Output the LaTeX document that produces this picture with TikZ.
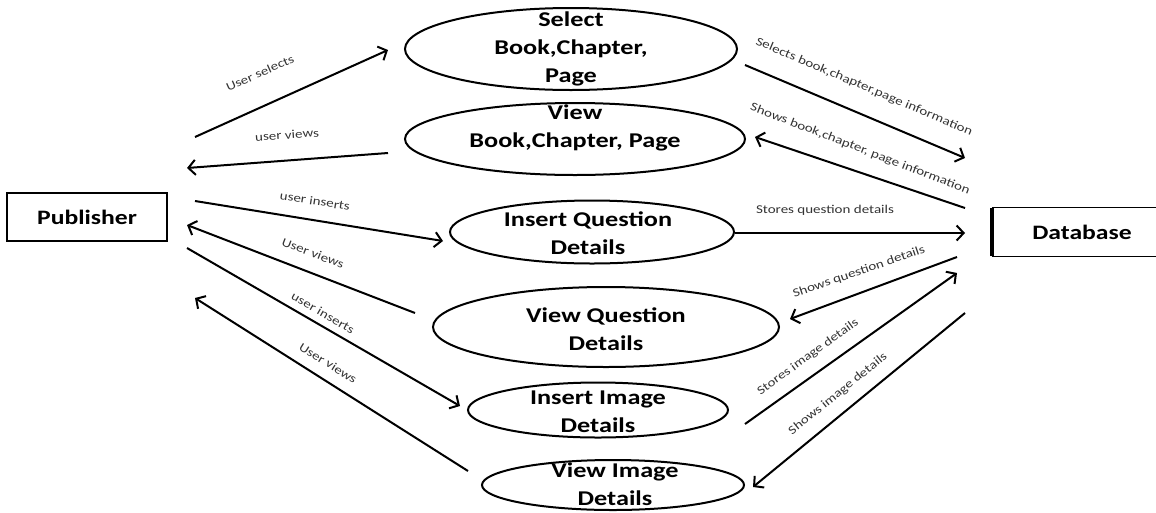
\documentclass[tikz,border=0pt]{standalone}
\usepackage{fontspec}
\setmainfont{Carlito}[FakeStretch=1.25]
\usetikzlibrary{shapes.geometric,arrows.meta}
\begin{document}
\begin{tikzpicture}[x=1pt,y=-1pt,
  every node/.style={inner sep=0pt},
  ell/.style={draw, ellipse, line width=2pt, inner sep=0pt},
  etext/.style={align=center, font=\bfseries\fontsize{21}{28}\selectfont},
  entity/.style={font=\bfseries\fontsize{20.5}{24}\selectfont},
  flow/.style={line width=2pt, -{Straight Barb[length=7pt,width=15pt]}},
  lbl/.style={font=\fontsize{12}{14}\selectfont, text=black!80}
]
\useasboundingbox (0,0) rectangle (1156,512);
\clip (0,0) rectangle (1156,512);

% external entities
\node[entity, draw, line width=2pt, minimum width=160pt, minimum height=48pt] (pub) at (87,217) {Publisher};
\node[entity, minimum width=180pt, minimum height=48pt] (db) at (1082,232) {Database};
\draw[line width=1.2pt] (db.north west) -- (db.north east);
\draw[line width=1.2pt] (db.south west) -- (db.south east);
\draw[line width=3.5pt] (db.north west) -- (db.south west);

% processes
\node[ell, minimum width=332pt, minimum height=82pt,
  label={[etext]center:Select\\Book,Chapter,\\Page}] (sel) at (571,49) {};
\node[ell, minimum width=340pt, minimum height=72pt,
  label={[etext, yshift=11pt]center:View\\Book,Chapter, Page}] (viewb) at (575,139) {};
\node[ell, minimum width=284pt, minimum height=63pt,
  label={[etext, xshift=-4pt, yshift=-1pt]center:Insert Question\\Details}] (insq) at (592,232) {};
\node[ell, minimum width=346pt, minimum height=80pt,
  label={[etext, yshift=-2pt]center:View Question\\Details}] (viewq) at (606,327) {};
\node[ell, minimum width=260pt, minimum height=55pt,
  label={[etext, yshift=-2pt]center:Insert Image\\Details}] (insi) at (598,410) {};
\node[ell, minimum width=262pt, minimum height=50pt,
  label={[etext, xshift=2pt, yshift=1pt]center:View Image\\Details}] (viewi) at (613,485) {};

% connector ends on the publisher side
\coordinate (pA) at (195,137); \coordinate (sA) at (388,50);
\coordinate (vbA) at (388,153); \coordinate (pB) at (187,168);
\coordinate (pC) at (195,201); \coordinate (iqA) at (443,241);
\coordinate (vqA) at (415,313); \coordinate (pD) at (187,225);
\coordinate (pE) at (187,248); \coordinate (iiA) at (460,406);
\coordinate (viA) at (468,471); \coordinate (pF) at (195,298);

% connector ends on the database side
\coordinate (sB) at (745,65); \coordinate (dA) at (965,158);
\coordinate (dB) at (965,208); \coordinate (vbB) at (755,137);
\coordinate (iqB) at (735,233); \coordinate (dC) at (965,233);
\coordinate (dD) at (957,257); \coordinate (vqB) at (790,319);
\coordinate (iiB) at (745,424); \coordinate (dE) at (957,273);
\coordinate (dF) at (965,313); \coordinate (viB) at (753,487);

% data flows
\draw[flow] (pA) -- (sA);
\draw[flow] (vbA) -- (pB);
\draw[flow] (pC) -- (iqA);
\draw[flow] (vqA) -- (pD);
\draw[flow] (pE) -- (iiA);
\draw[flow] (viA) -- (pF);
\draw[flow] (sB) -- (dA);
\draw[flow] (dB) -- (vbB);
\draw[flow] (iqB) -- (dC);
\draw[flow] (dD) -- (vqB);
\draw[flow] (iiB) -- (dE);
\draw[flow] (dF) -- (viB);

% flow labels
\node[lbl, rotate=24] (l1) at (260,73) {User selects};
\node[lbl, rotate=4] (l2) at (287,135) {user views};
\node[lbl, rotate=-9] (l3) at (315,201) {user inserts};
\node[lbl, rotate=-21] (l4) at (313,253) {User views};
\node[lbl, rotate=-30] (l5) at (323,313) {user inserts};
\node[lbl, rotate=-32] (l6) at (328,363) {User views};
\node[lbl, rotate=-23] (l7) at (864,87) {Selects book,chapter,page information};
\node[lbl, rotate=-21] (l8) at (860,149) {Shows book,chapter, page information};
\node[lbl] (l9) at (825,210) {Stores question details};
\node[lbl, rotate=19] (l10) at (859,272) {Shows question details};
\node[lbl, rotate=36] (l11) at (808,357) {Stores image details};
\node[lbl, rotate=39] (l12) at (838,394) {Shows image details};
\end{tikzpicture}
\end{document}
